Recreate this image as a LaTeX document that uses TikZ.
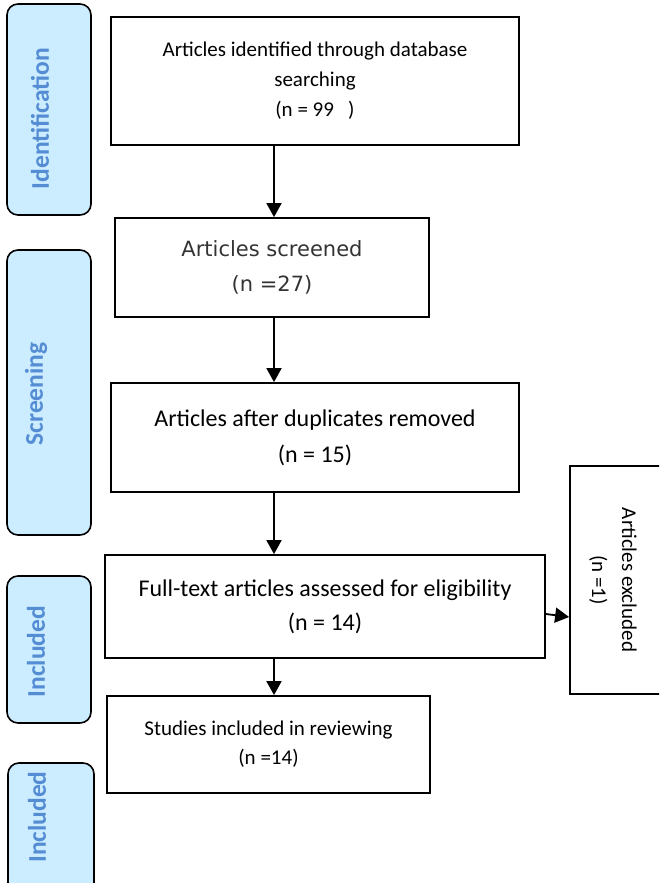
\documentclass[tikz,border=0pt]{standalone}
\usepackage{fontspec}
\setmainfont{Carlito}
\newfontfamily\dvfont{DejaVu Sans}
\usetikzlibrary{arrows.meta}
\definecolor{sidefill}{RGB}{204,236,255}
\definecolor{sidetext}{RGB}{84,141,212}
\begin{document}
\begin{tikzpicture}[x=1pt,y=-1pt,
  box/.style={draw=black, line width=1.8pt, inner sep=0pt, align=center},
  side/.style={draw=black, line width=1.6pt, fill=sidefill, rounded corners=11pt, inner sep=0pt},
  sidelbl/.style={rotate=90, text=sidetext, font=\bfseries\fontsize{25.5}{28}\selectfont, inner sep=0pt},
  arr/.style={line width=1.8pt, -{Triangle[width=15pt,length=14pt]}}
]
\useasboundingbox (0,0) rectangle (659,883);
\clip (0,0) rectangle (659,883);

% side phase boxes
\node[side, minimum width=84pt, minimum height=211pt] (sid) at (49,109.5) {};
\node[side, minimum width=84pt, minimum height=285pt] (sscr) at (49,392.5) {};
\node[side, minimum width=84pt, minimum height=147pt] (sinc) at (49,649.5) {};
\node[side, minimum width=86pt, minimum height=140pt] (sinc2) at (51,833) {};
\node[sidelbl] (lid) at (40,118.5) {Identification};
\node[sidelbl] (lscr) at (36,394) {Screening};
\node[sidelbl] (linc) at (36,651.5) {Included};
\node[sidelbl] (linc2) at (37,817) {Included};

% main boxes
\node[box, minimum width=408pt, minimum height=128pt,
  font=\fontsize{21}{30}\selectfont] (b1) at (315,81)
  {Articles identified through database\\searching\\(n = 99\ \ \ )};
\node[box, minimum width=314pt, minimum height=99pt,
  font=\dvfont\fontsize{21}{35}\selectfont, text=black!80] (b2) at (272,267.5)
  {Articles screened\\(n =27)};
\node[box, minimum width=408pt, minimum height=109pt,
  font=\fontsize{24}{36}\selectfont] (b3) at (315,437.5)
  {Articles after duplicates removed\\(n = 15)};
\node[box, minimum width=440pt, minimum height=103pt,
  font=\fontsize{24}{34}\selectfont] (b4) at (325,606.5)
  {Full-text articles assessed for eligibility\\(n = 14)};
\node[box, minimum width=323pt, minimum height=97pt,
  font=\fontsize{21}{29}\selectfont] (b5) at (268.5,744.5)
  {Studies included in reviewing\\(n =14)};
\node[box, minimum width=120pt, minimum height=228pt] (excl) at (630,580) {};
\node[rotate=-90, align=center, inner sep=0pt,
  font=\fontsize{21}{30}\selectfont] (excltxt) at (613,580)
  {Articles excluded\\(n =1)};

\coordinate (ax) at (274,0);
\draw[arr] (b1.south -| ax) -- (b2.north -| ax);
\draw[arr] (b2.south -| ax) -- (b3.north -| ax);
\draw[arr] (b3.south -| ax) -- (b4.north -| ax);
\draw[arr] (b4.south -| ax) -- (b5.north -| ax);
\draw[arr] ([yshift=-7.5pt]b4.east) -- ([yshift=-37pt]excl.west);
\end{tikzpicture}
\end{document}
